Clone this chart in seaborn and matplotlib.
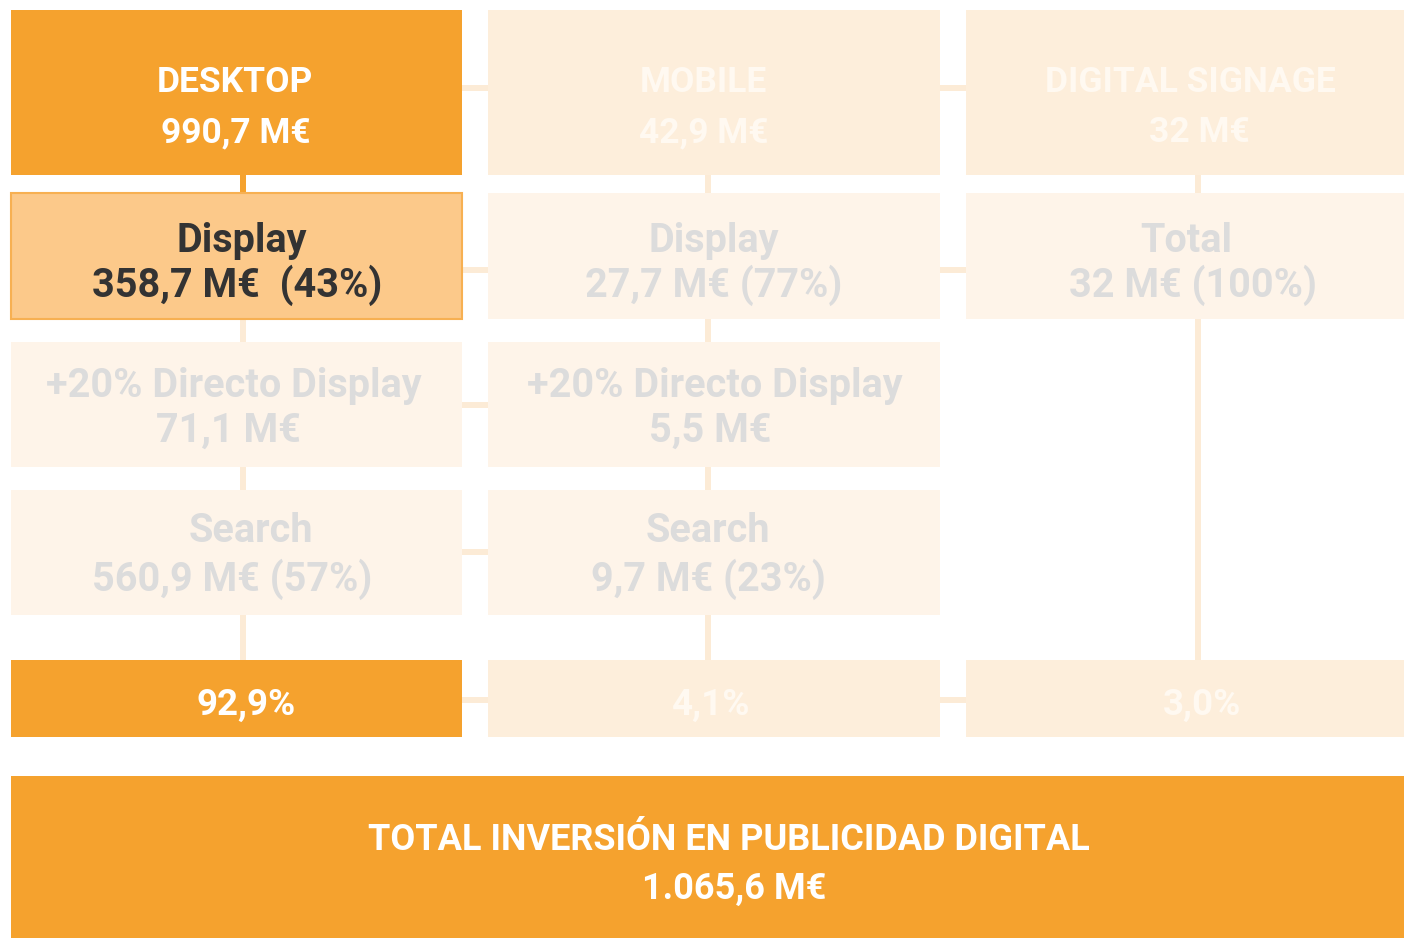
import seaborn as sns
import matplotlib.pyplot as plt
from matplotlib.patches import Rectangle

# data
channels = ['DESKTOP', 'MOBILE', 'DIGITAL SIGNAGE']
channel_totals = ['990,7 M€', '42,9 M€', '32 M€']
display_labels = ['Display', 'Display', 'Total']
display_values = ['358,7 M€  (43%)', '27,7 M€ (77%)', '32 M€ (100%)']
directo_values = ['71,1 M€', '5,5 M€', None]
search_values = ['560,9 M€ (57%)', '9,7 M€ (23%)', None]
shares = ['92,9%', '4,1%', '3,0%']
grand_total_label = 'TOTAL INVERSIÓN EN PUBLICIDAD DIGITAL'
grand_total_value = '1.065,6 M€'

ORANGE = '#F5A22E'
HILITE = '#FCC98A'
FADE_HEAD = '#FDEEDB'
FADE_BOX = '#FEF4E9'
FADE_LINE = '#FCEBD6'
FADE_TEXT = '#DCDCDC'
DARK = '#333333'

sns.set_theme(style='white')
plt.rcParams['font.family'] = ['Roboto', 'DejaVu Sans']

fig = plt.figure(figsize=(14.04, 9.38), dpi=100)
ax = fig.add_axes([0, 0, 1, 1])
ax.set_xlim(0, 1404)
ax.set_ylim(938, 0)
ax.axis('off')

cols = [(11, 462), (488, 940), (966, 1404)]
line_x = [243, 708, 1198]
rows = {'head': (10, 175), 'disp': (193, 319), 'dir': (342, 467),
        'search': (490, 615), 'pct': (660, 737)}
# text centres per column, per line
tx = {
    'head1': [235, 703, 1190], 'head2': [236, 704, 1199],
    'disp1': [242, 714, 1186], 'disp2': [237, 714, 1193],
    'dir1': [234, 715, None], 'dir2': [228, 710, None],
    'search1': [251, 708, None], 'search2': [232, 708, None],
    'pct': [246, 711, 1202],
}


def box(x0, x1, y0, y1, color, edge=None):
    ax.add_patch(Rectangle((x0, y0), x1 - x0, y1 - y0, facecolor=color,
                           edgecolor=edge if edge else color, lw=1.5 if edge else 0))


def vline(x, y0, y1, color):
    ax.add_patch(Rectangle((x - 3, y0), 6, y1 - y0, facecolor=color, lw=0))


def hline(x0, x1, y, color):
    ax.add_patch(Rectangle((x0, y - 3), x1 - x0, 6, facecolor=color, lw=0))


def label(x, y, s, size, color):
    ax.text(x, y, s, ha='center', va='baseline', fontsize=size,
            fontweight='bold', color=color)


# horizontal stubs between columns
for y in [88, 270, 405, 552, 700]:
    hline(462, 488, y, FADE_LINE)
for y in [88, 270, 700]:
    hline(940, 966, y, FADE_LINE)

# vertical connectors
vline(line_x[0], 175, 193, ORANGE)
for y0, y1 in [(319, 342), (467, 490), (615, 660)]:
    vline(line_x[0], y0, y1, FADE_LINE)
for y0, y1 in [(175, 193), (319, 342), (467, 490), (615, 660)]:
    vline(line_x[1], y0, y1, FADE_LINE)
vline(line_x[2], 175, 193, FADE_LINE)
vline(line_x[2], 319, 660, FADE_LINE)

for i, (x0, x1) in enumerate(cols):
    active = i == 0
    # header
    box(x0, x1, *rows['head'], ORANGE if active else FADE_HEAD)
    hc = 'white' if active else '#FFF9F1'
    label(tx['head1'][i], 92, channels[i], 25.5, hc)
    label(tx['head2'][i], 142, channel_totals[i], 25.5, hc)
    # display / total
    if active:
        box(x0, x1, *rows['disp'], HILITE, edge='#F7B052')
    else:
        box(x0, x1, *rows['disp'], FADE_BOX)
    tc = DARK if active else FADE_TEXT
    label(tx['disp1'][i], 252, display_labels[i], 28.5, tc)
    label(tx['disp2'][i], 297, display_values[i], 28.5, tc)
    # directo display + search
    if directo_values[i] is not None:
        box(x0, x1, *rows['dir'], FADE_BOX)
        label(tx['dir1'][i], 397, '+20% Directo Display', 28.5, FADE_TEXT)
        label(tx['dir2'][i], 442, directo_values[i], 28.5, FADE_TEXT)
        box(x0, x1, *rows['search'], FADE_BOX)
        label(tx['search1'][i], 542, 'Search', 28.5, FADE_TEXT)
        label(tx['search2'][i], 591, search_values[i], 28.5, FADE_TEXT)
    # share
    box(x0, x1, *rows['pct'], ORANGE if active else FADE_HEAD)
    label(tx['pct'][i], 715, shares[i], 26.5, 'white' if active else '#FFF9F1')

# grand total
box(11, 1404, 776, 938, ORANGE)
label(729, 850, grand_total_label, 26, 'white')
label(734, 899, grand_total_value, 26, 'white')

fig.savefig('out.png', dpi=100, facecolor='white')
